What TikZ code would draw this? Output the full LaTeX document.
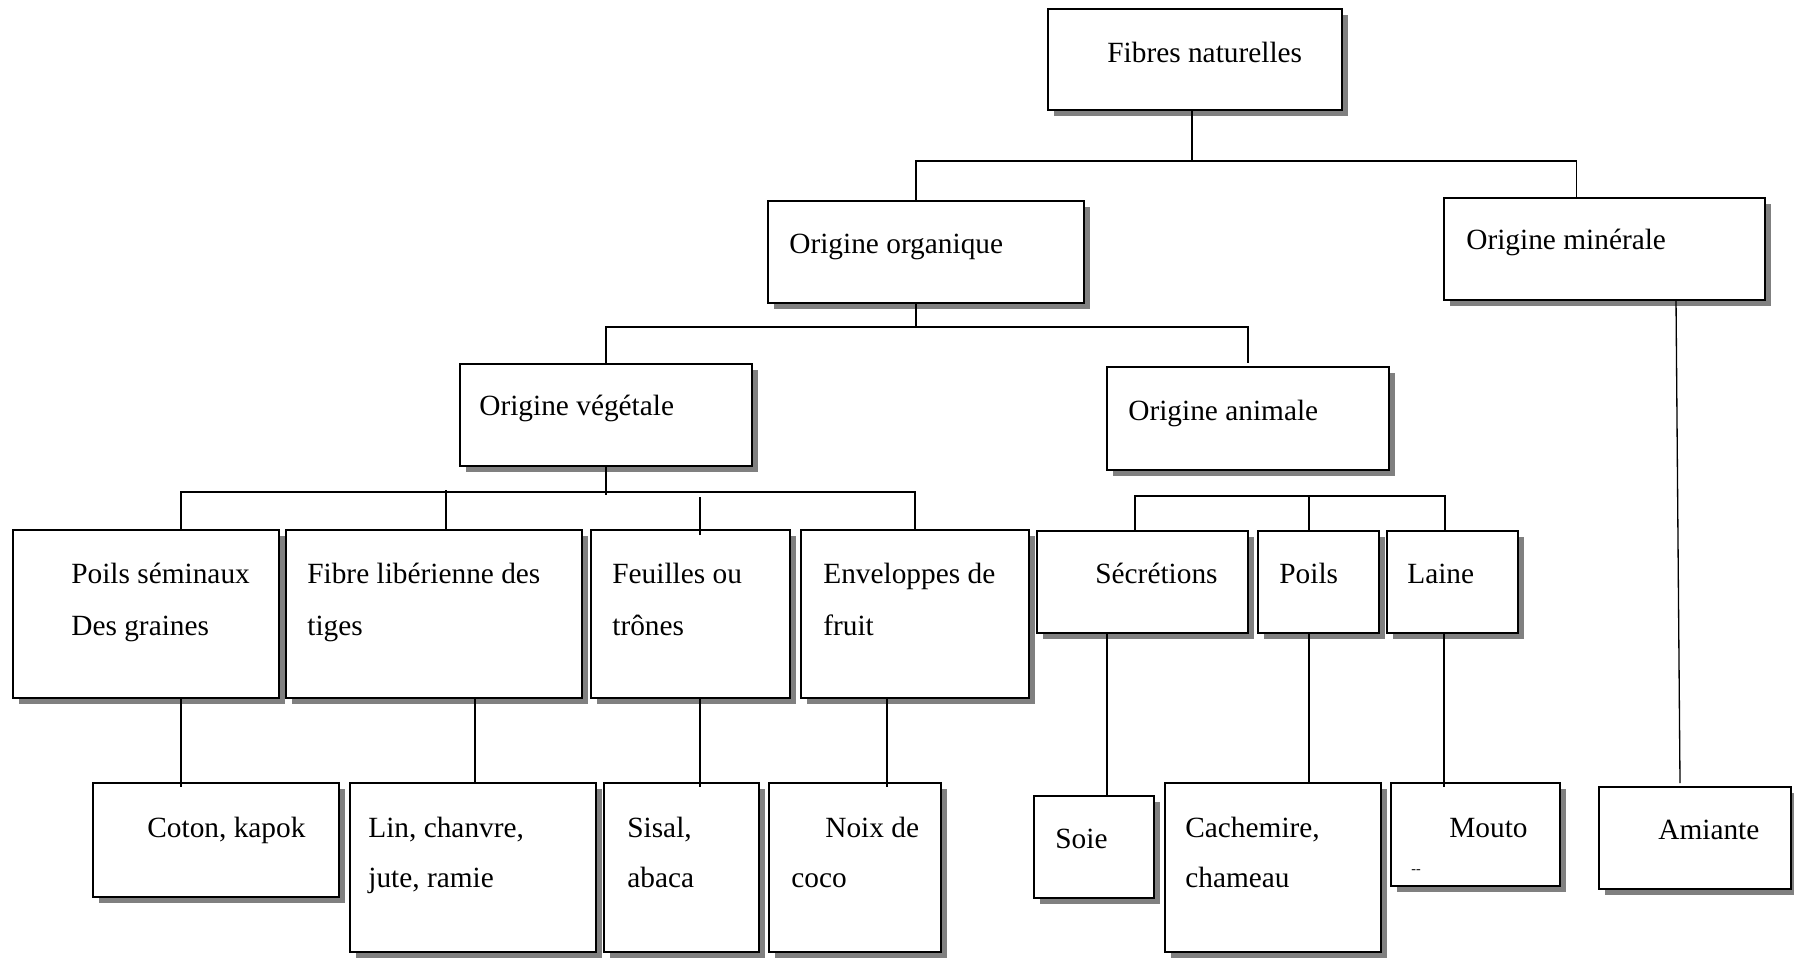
\documentclass[tikz,border=0pt]{standalone}
\usepackage{fontspec}
\setmainfont{Liberation Serif}
\usepackage{xcolor}
\usepackage{tikz}
\usetikzlibrary{calc,shadows}
\definecolor{shadowgray}{RGB}{128,128,128}
\definecolor{textdark}{RGB}{0,0,0}

\begin{document}
\begin{tikzpicture}[
		x=0.02cm,
		y=-0.02cm,
		box/.style 2 args={
			draw=black,
			line width=1.1pt,
			fill=white,
			drop shadow={
				shadow xshift=0.12cm,
				shadow yshift=-0.12cm,
				fill=shadowgray,
				opacity=1
			},
			minimum width=#1*0.02cm,
			minimum height=#2*0.02cm,
			inner sep=0pt,
			outer sep=0pt
		},
		txt/.style={font=\fontsize{16.7}{20}\selectfont, text=textdark, anchor=base west, inner sep=0pt},
		tinytxt/.style={font=\fontsize{8}{9}\selectfont, text=textdark, anchor=base west, inner sep=0pt},
		link/.style={line width=0.75pt, draw=black}
	]
	
	% Page
	\useasboundingbox (0,0) rectangle (1794,957);
	
	% Top
	\node[box={294}{101}] (fibres) at (1195,59.5) {};
	
	% Origins
	\node[box={316}{102}] (organique) at (926,252) {};
	\node[box={321}{102}] (minerale) at (1604.5,249) {};
	\node[box={292}{102}] (vegetale) at (606,415) {};
	\node[box={282}{103}] (animale) at (1248,418.5) {};
	
	% Families
	\node[box={266}{168}] (graines) at (146,614) {};
	\node[box={296}{168}] (liber) at (434,614) {};
	\node[box={199}{168}] (feuilles) at (690.5,614) {};
	\node[box={228}{168}] (fruit) at (915,614) {};
	\node[box={211}{102}] (secretions) at (1142.5,582) {};
	\node[box={121}{102}] (poils) at (1318.5,582) {};
	\node[box={131}{102}] (laine) at (1452.5,582) {};
	
	% Fibres
	\node[box={246}{114}] (coton) at (216,840) {};
	\node[box={246}{169}] (lin) at (473,867.5) {};
	\node[box={155}{169}] (sisal) at (681.5,867.5) {};
	\node[box={172}{169}] (coco) at (855,867.5) {};
	\node[box={120}{102}] (soie) at (1094,847) {};
	\node[box={216}{169}] (cachemire) at (1273,867.5) {};
	\node[box={169}{103}] (mouton) at (1475.5,834.5) {};
	\node[box={192}{102}] (amiante) at (1695,838) {};
	
	% Box text
	\node[txt] (tfibres) at ($(fibres.north west)+(59,53)$) {Fibres naturelles};
	\node[txt] (torganique) at ($(organique.north west)+(21,52)$) {Origine organique};
	\node[txt] (tminerale) at ($(minerale.north west)+(22,51)$) {Origine minérale};
	\node[txt] (tvegetale) at ($(vegetale.north west)+(19,51)$) {Origine végétale};
	\node[txt] (tanimale) at ($(animale.north west)+(21,53)$) {Origine animale};
	
	\node[txt] (tgraines) at ($(graines.north west)+(58,53)$) {Poils séminaux};
	\node[txt] (tgraines2) at ($(graines.north west)+(58,105)$) {Des graines};
	\node[txt] (tliber) at ($(liber.north west)+(21,53)$) {Fibre libérienne des};
	\node[txt] (tliber2) at ($(liber.north west)+(21,105)$) {tiges};
	\node[txt] (tfeuilles) at ($(feuilles.north west)+(21,53)$) {Feuilles ou};
	\node[txt] (tfeuilles2) at ($(feuilles.north west)+(21,105)$) {trônes};
	\node[txt] (tfruit) at ($(fruit.north west)+(22,53)$) {Enveloppes de};
	\node[txt] (tfruit2) at ($(fruit.north west)+(22,105)$) {fruit};
	\node[txt] (tsecretions) at ($(secretions.north west)+(58,52)$) {Sécrétions};
	\node[txt] (tpoils) at ($(poils.north west)+(21,52)$) {Poils};
	\node[txt] (tlaine) at ($(laine.north west)+(20,52)$) {Laine};
	
	\node[txt] (tcoton) at ($(coton.north west)+(54,54)$) {Coton, kapok};
	\node[txt] (tlin) at ($(lin.north west)+(18,54)$) {Lin, chanvre,};
	\node[txt] (tlin2) at ($(lin.north west)+(18,104)$) {jute, ramie};
	\node[txt] (tsisal) at ($(sisal.north west)+(23,54)$) {Sisal,};
	\node[txt] (tsisal2) at ($(sisal.north west)+(23,104)$) {abaca};
	\node[txt] (tcoco) at ($(coco.north west)+(56,54)$) {Noix de};
	\node[txt] (tcoco2) at ($(coco.north west)+(22,104)$) {coco};
	\node[txt] (tsoie) at ($(soie.north west)+(21,52)$) {Soie};
	\node[txt] (tcachemire) at ($(cachemire.north west)+(20,54)$) {Cachemire,};
	\node[txt] (tcachemire2) at ($(cachemire.north west)+(20,104)$) {chameau};
	\node[txt] (tmouton) at ($(mouton.north west)+(58,54)$) {Mouto};
	\node[tinytxt] (tmouton2) at ($(mouton.north west)+(20,90)$) {-{}-};
	\node[txt] (tamiante) at ($(amiante.north west)+(59,52)$) {Amiante};
	
	% Fibres naturelles -> origines
	\draw[link] (fibres.south) ++(-3,0) -- ++(0,51) coordinate (j1);
	\draw[link] ($(organique.north)+(-10,0)$) |- (j1) -| ($(minerale.north)+(-28,0)$);
	
	% Organique -> vegetale, animale
	\draw[link] ($(organique.south)+(-10,0)$) -- ++(0,24) coordinate (j2);
	\draw[link] (vegetale.north) |- (j2) -| ($(animale.north)+(0,-4)$);
	
	% Vegetale -> families
	\draw[link] (vegetale.south) -- ++(0,29);
	\coordinate (j3) at ($(vegetale.south)+(0,26)$);
	\draw[link] ($(graines.north)+(35,0)$) |- (j3) -| (fruit.north);
	\draw[link] ($(liber.north)+(12,0)$) -- ++(0,-40);
	\draw[link] ($(feuilles.north)+(9.5,5)$) -- ++(0,-38);
	
	% Animale families
	\draw[link] ($(secretions.north)+(-7.5,0)$) -- ++(0,-35) -| ($(laine.north)+(-7.5,0)$);
	\draw[link] ($(poils.north)+(-9.5,0)$) -- ++(0,-35);
	
	% Families -> fibres
	\draw[link] ($(graines.south)+(35,0)$) -- ($(coton.north)+(-35,4)$);
	\draw[link] ($(liber.south)+(41,0)$) -- ($(lin.north)+(2,0)$);
	\draw[link] ($(feuilles.south)+(9.5,0)$) -- ($(sisal.north)+(18.5,4)$);
	\draw[link] ($(fruit.south)+(-28,0)$) -- ($(coco.north)+(32,4)$);
	\draw[link] ($(secretions.south)+(-35.5,0)$) -- ($(soie.north)+(13,-1)$);
	\draw[link] ($(poils.south)+(-9.5,0)$) -- ($(cachemire.north)+(36,0)$);
	\draw[link] ($(laine.south)+(-8.5,0)$) -- ($(mouton.north)+(-31.5,4)$);
	\draw[link] ($(minerale.south)+(71.5,0)$) -- ($(amiante.north)+(-15,-4)$);
	
\end{tikzpicture}
\end{document}
